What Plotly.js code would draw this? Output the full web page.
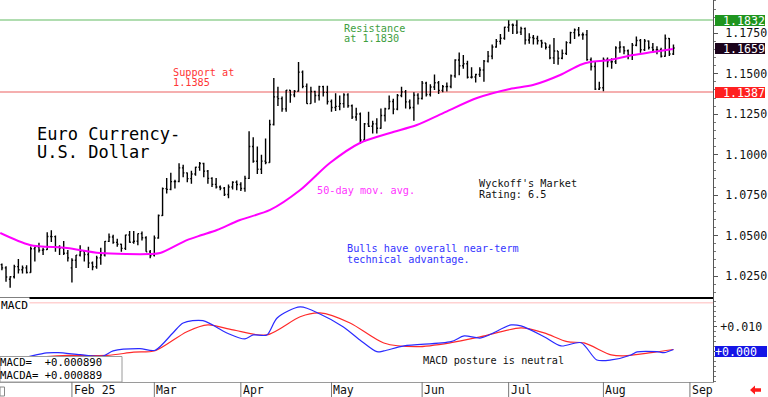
<!DOCTYPE html>
<html><head><meta charset="utf-8">
<script src="https://cdn.plot.ly/plotly-3.0.1.min.js"></script>
<style>html,body{margin:0;padding:0;background:#fff;}#chart{width:768px;height:397px;}</style>
</head><body><div id="chart"></div>
<script>
// ---- Daily OHLC (Jan 9 .. Aug 26), one entry per weekday ----
const opens = [
1.0320,1.0300,1.0230,1.0245,1.0308,1.0289,1.0300,1.0272,1.0418,1.0430,1.0409,1.0413,1.0494,1.0493,1.0430,1.0423,1.0391,
1.0300,1.0347,1.0379,1.0402,1.0383,1.0330,1.0307,1.0362,1.0380,1.0464,1.0491,1.0458,1.0446,1.0421,1.0503,1.0459,1.0465,1.0512,1.0486,1.0399,
1.0380,1.0485,1.0624,1.0790,1.0785,1.0833,1.0834,1.0918,1.0887,1.0852,1.0880,1.0922,1.0945,1.0898,1.0853,1.0816,1.0800,1.0793,1.0754,1.0800,1.0829,
1.0815,1.0791,1.0853,1.1050,1.0959,1.0910,1.0960,1.0951,1.1186,1.1357,1.1346,1.1283,1.1398,1.1369,1.1392,1.1510,1.1422,1.1315,1.1390,1.1365,1.1420,1.1385,
1.1328,1.1291,1.1298,1.1315,1.1369,1.1302,1.1233,1.1251,1.1090,1.1190,1.1175,1.1190,1.1163,1.1242,1.1283,1.1328,1.1281,1.1365,1.1388,1.1326,1.1291,1.1368,
1.1347,1.1442,1.1372,1.1418,1.1444,1.1397,1.1420,1.1421,1.1487,1.1585,1.1549,1.1562,1.1478,1.1480,1.1495,1.1523,1.1578,1.1609,1.1665,1.1700,1.1719,
1.1787,1.1802,1.1800,1.1757,1.1779,1.1708,1.1724,1.1718,1.1704,1.1690,1.1664,1.1598,1.1640,1.1596,1.1626,1.1692,1.1754,1.1771,1.1741,1.1741,1.1587,1.1545,1.1405,
1.1413,1.1588,1.1573,1.1574,1.1660,1.1665,1.1642,1.1615,1.1676,1.1705,1.1648,1.1702,1.1662,1.1648,1.1648,1.1608,1.1718,1.1622];
const highs = [
1.0327,1.0310,1.0249,1.0320,1.0355,1.0315,1.0316,1.0433,1.0430,1.0455,1.0425,1.0520,1.0533,1.0500,1.0440,1.0466,1.0410,
1.0360,1.0380,1.0440,1.0405,1.0430,1.0340,1.0375,1.0425,1.0467,1.0513,1.0505,1.0480,1.0450,1.0505,1.0528,1.0528,1.0513,1.0525,1.0495,1.0410,
1.0500,1.0630,1.0797,1.0855,1.0888,1.0845,1.0947,1.0938,1.0890,1.0900,1.0925,1.0955,1.0950,1.0905,1.0860,1.0855,1.0810,1.0800,1.0815,1.0835,1.0840,
1.0830,1.0870,1.1144,1.1107,1.1050,1.1000,1.1100,1.1215,1.1474,1.1420,1.1360,1.1400,1.1400,1.1400,1.1573,1.1520,1.1440,1.1420,1.1395,1.1425,1.1425,1.1425,
1.1340,1.1380,1.1365,1.1380,1.1380,1.1310,1.1290,1.1260,1.1195,1.1265,1.1210,1.1225,1.1285,1.1290,1.1365,1.1345,1.1375,1.1420,1.1400,1.1340,1.1385,1.1380,
1.1455,1.1450,1.1435,1.1495,1.1455,1.1430,1.1445,1.1495,1.1590,1.1631,1.1615,1.1580,1.1540,1.1500,1.1540,1.1585,1.1640,1.1680,1.1715,1.1745,1.1790,
1.1830,1.1810,1.1830,1.1790,1.1785,1.1750,1.1740,1.1735,1.1710,1.1690,1.1680,1.1720,1.1640,1.1650,1.1700,1.1760,1.1780,1.1789,1.1755,1.1770,1.1600,1.1575,1.1450,
1.1600,1.1600,1.1595,1.1670,1.1700,1.1670,1.1650,1.1690,1.1730,1.1715,1.1715,1.1705,1.1690,1.1670,1.1660,1.1742,1.1720,1.1680];
const lows = [
1.0285,1.0215,1.0178,1.0235,1.0265,1.0265,1.0265,1.0270,1.0340,1.0395,1.0380,1.0410,1.0460,1.0400,1.0380,1.0380,1.0340,
1.0210,1.0300,1.0370,1.0340,1.0300,1.0285,1.0295,1.0320,1.0370,1.0460,1.0450,1.0430,1.0400,1.0410,1.0455,1.0450,1.0440,1.0470,1.0400,1.0359,
1.0370,1.0480,1.0620,1.0760,1.0780,1.0790,1.0830,1.0860,1.0830,1.0820,1.0870,1.0900,1.0860,1.0820,1.0800,1.0790,1.0780,1.0745,1.0730,1.0785,1.0780,
1.0775,1.0770,1.0850,1.0950,1.0880,1.0880,1.0940,1.0950,1.1180,1.1300,1.1265,1.1265,1.1320,1.1355,1.1390,1.1410,1.1315,1.1315,1.1320,1.1335,1.1360,1.1310,
1.1265,1.1270,1.1275,1.1290,1.1290,1.1220,1.1210,1.1065,1.1080,1.1170,1.1130,1.1130,1.1160,1.1205,1.1280,1.1250,1.1275,1.1355,1.1285,1.1280,1.1210,1.1310,
1.1340,1.1360,1.1360,1.1400,1.1375,1.1385,1.1390,1.1410,1.1475,1.1490,1.1530,1.1470,1.1470,1.1445,1.1480,1.1450,1.1570,1.1590,1.1660,1.1680,1.1710,
1.1760,1.1745,1.1745,1.1740,1.1680,1.1685,1.1680,1.1680,1.1660,1.1650,1.1590,1.1560,1.1556,1.1590,1.1615,1.1685,1.1715,1.1730,1.1710,1.1580,1.1520,1.1400,1.1400,
1.1391,1.1540,1.1530,1.1560,1.1630,1.1620,1.1590,1.1585,1.1670,1.1630,1.1640,1.1650,1.1630,1.1620,1.1600,1.1605,1.1610,1.1615];
const closes = [
1.0300,1.0244,1.0245,1.0308,1.0289,1.0300,1.0272,1.0418,1.0430,1.0409,1.0413,1.0494,1.0493,1.0430,1.0423,1.0391,1.0362,
1.0347,1.0379,1.0402,1.0383,1.0330,1.0307,1.0362,1.0380,1.0464,1.0491,1.0458,1.0446,1.0421,1.0503,1.0459,1.0465,1.0512,1.0486,1.0399,1.0375,
1.0485,1.0624,1.0790,1.0785,1.0833,1.0834,1.0918,1.0887,1.0852,1.0880,1.0922,1.0945,1.0898,1.0853,1.0816,1.0800,1.0793,1.0754,1.0800,1.0829,1.0815,
1.0791,1.0853,1.1050,1.0959,1.0910,1.0960,1.0951,1.1186,1.1357,1.1346,1.1283,1.1398,1.1369,1.1392,1.1510,1.1422,1.1315,1.1390,1.1365,1.1420,1.1385,1.1328,
1.1291,1.1298,1.1315,1.1369,1.1302,1.1233,1.1251,1.1090,1.1190,1.1175,1.1190,1.1163,1.1242,1.1283,1.1328,1.1281,1.1365,1.1388,1.1326,1.1291,1.1368,1.1347,
1.1442,1.1372,1.1418,1.1444,1.1397,1.1420,1.1421,1.1487,1.1585,1.1549,1.1562,1.1478,1.1480,1.1495,1.1523,1.1578,1.1609,1.1665,1.1700,1.1719,1.1787,
1.1802,1.1800,1.1757,1.1779,1.1708,1.1724,1.1718,1.1704,1.1690,1.1664,1.1598,1.1640,1.1596,1.1626,1.1692,1.1754,1.1771,1.1741,1.1741,1.1587,1.1545,1.1405,1.1413,
1.1588,1.1573,1.1574,1.1660,1.1665,1.1642,1.1615,1.1676,1.1705,1.1648,1.1702,1.1662,1.1648,1.1648,1.1608,1.1718,1.1622,1.1659];

// ---- 50-day moving average (bar index, value) ----
const maIdx = [-0.4, 6.8, 15.8, 23.8, 35.9, 38.4, 44.9, 48.5, 52.2, 57.8, 65.1, 72.4, 79.6, 86.9, 94.2, 100.7, 107.1, 115.3, 123.3, 128.9, 135.5, 140.3, 142.8, 147.6, 153.2, 158, 162.9];
const maVal = [1.0516, 1.0442, 1.0423, 1.0392, 1.0386, 1.0392, 1.0472, 1.0503, 1.0534, 1.0596, 1.0658, 1.0781, 1.0948, 1.1072, 1.1134, 1.1183, 1.1257, 1.1350, 1.1406, 1.1430, 1.1492, 1.1554, 1.1572, 1.1585, 1.1616, 1.1634, 1.1653];

// ---- MACD (blue) and signal / MACDA (red) ----
const macdIdx = [-0.4, 5, 10.9, 13.6, 19, 24.5, 27, 33.5, 37.2, 41.5, 44, 48.8, 54.6, 59, 61, 64.3, 66.8, 72.4, 77.2, 82.8, 86.9, 91, 92.7, 97.6, 109, 112.2, 116.3, 123.6, 126, 131.6, 135.7, 140.6, 144.4, 147.9, 152.7, 154.2, 159, 160.7, 163];
const macdVal = [-0.0040, -0.0025, -0.0005, -0.0004, -0.0012, -0.0018, 0.0003, 0.0012, 0.0006, 0.0075, 0.0115, 0.0124, 0.0075, 0.0051, 0.0067, 0.0067, 0.0135, 0.0179, 0.0151, 0.0100, 0.0047, 0.0000, 0.0003, 0.0023, 0.0040, 0.0063, 0.0055, 0.0107, 0.0103, 0.0060, 0.0023, 0.0036, -0.0033, -0.0033, -0.0013, -0.0001, 0.0000, -0.0004, 0.00089];
const sigIdx = [-0.4, 15.8, 25.5, 32, 37.2, 44.9, 50, 56.1, 64.3, 72.4, 77.2, 84.5, 92.7, 100.8, 109, 116.3, 126, 131.6, 137.2, 141.3, 147.9, 151, 157.6, 163];
const sigVal = [-0.0035, -0.0015, -0.0015, -0.0002, 0.0004, 0.0080, 0.0107, 0.0087, 0.0067, 0.0140, 0.0155, 0.0115, 0.0035, 0.0020, 0.0036, 0.0060, 0.0095, 0.0075, 0.0040, 0.0035, -0.0013, -0.0017, -0.0004, 0.00089];

// ---- axes / labels ----
const monthIdx = [17, 37, 58, 80, 102, 123, 146, 167];
const monthLabels = ['Feb 25', 'Mar', 'Apr', 'May', 'Jun', 'Jul', 'Aug', 'Sep'];
const priceTicks = [1.025, 1.05, 1.075, 1.1, 1.125, 1.15, 1.175];
const priceTickText = ['1.0250', '1.0500', '1.0750', '1.1000', '1.1250', '1.1500', '1.1750'];
const macdTicks = [0, 0.01];
const macdTickText = ['', '+0.010'];
const resistanceLevel = 1.1832;
const supportLevel = 1.1387;
const lastClose = 1.1659;
const macdUpperLine = 0.0196;
const macdLast = '+0.000890';
const macdaLast = '+0.000889';

const xIdx = closes.map((_, i) => i);
const MONO = 'DejaVu Sans Mono';
const PH = 382, PW = 713; // plot area in px
const px = v => v / PW;
const py = v => (PH - v) / PH;
const XR = [-0.46, 172.6];

const traces = [
  {type: 'ohlc', x: xIdx, open: opens, high: highs, low: lows, close: closes,
   xaxis: 'x', yaxis: 'y', tickwidth: 0.3, hoverinfo: 'skip',
   increasing: {line: {color: '#000', width: 1.4}},
   decreasing: {line: {color: '#000', width: 1.4}}},
  {type: 'scatter', mode: 'lines', x: maIdx, y: maVal, xaxis: 'x', yaxis: 'y',
   line: {color: '#ff00ff', width: 2, shape: 'spline', smoothing: 0.8}, hoverinfo: 'skip'},
  {type: 'scatter', mode: 'lines', x: sigIdx, y: sigVal, xaxis: 'x2', yaxis: 'y2',
   line: {color: '#ff2a2a', width: 1.2, shape: 'spline', smoothing: 0.8}, hoverinfo: 'skip'},
  {type: 'scatter', mode: 'lines', x: macdIdx, y: macdVal, xaxis: 'x2', yaxis: 'y2',
   line: {color: '#2a2aff', width: 1.2, shape: 'spline', smoothing: 0.8}, hoverinfo: 'skip'}
];

function txt(t, x, y, size, color, extra) {
  return Object.assign({text: t, xref: 'paper', yref: 'paper', x: px(x) , y: py(y),
    xanchor: 'left', yanchor: 'middle', showarrow: false, xshift: -2,
    font: {family: MONO, size: size, color: color}}, extra || {});
}

const annotations = [
  txt('Resistance', 344.3, 28.3, 10.2, '#3e9e3e'),
  txt('at 1.1830', 344.3, 38.6, 10.2, '#3e9e3e'),
  txt('Support at', 173.3, 72.3, 10.2, '#ff3535'),
  txt('1.1385', 173.3, 82.6, 10.2, '#ff3535'),
  txt('Euro Currency-', 36.7, 134.3, 17, '#000'),
  txt('U.S. Dollar', 36.7, 151.7, 17, '#000'),
  txt('50-day mov. avg.', 316.7, 190.7, 10.2, '#ff33ff'),
  txt("Wyckoff's Market", 479.3, 184, 10.2, '#111'),
  txt('Rating: 6.5', 479.3, 194.3, 10.2, '#111'),
  txt('Bulls have overall near-term', 346.7, 248.3, 10.2, '#3535ff'),
  txt('technical advantage.', 346.7, 259, 10.2, '#3535ff'),
  txt('MACD', 0, 305, 11.2, '#000', {bgcolor: '#fff', xshift: -1}),
  txt('MACD posture is neutral', 423.3, 360.7, 10.2, '#111'),
  txt('MACD=  ' + macdLast, 0, 362.4, 10.6, '#000', {xshift: -1, borderpad: 0}),
  txt('MACDA= ' + macdaLast, 0, 375.0, 10.6, '#000', {xshift: -1, borderpad: 0}),
  // highlighted right-axis values
  {text: resistanceLevel.toFixed(4), xref: 'paper', yref: 'y', x: 1, y: resistanceLevel, xanchor: 'left', yanchor: 'middle',
   xshift: 2, showarrow: false, bgcolor: '#1f951f', width: 50, height: 11, borderpad: 0, borderwidth: 0, align: 'right',
   font: {family: MONO, size: 11.6, color: '#fff'}},
  {text: lastClose.toFixed(4), xref: 'paper', yref: 'y', x: 1, y: lastClose, xanchor: 'left', yanchor: 'middle',
   xshift: 2, showarrow: false, bgcolor: '#1c041c', width: 50, height: 11, borderpad: 0, borderwidth: 0, align: 'right',
   font: {family: MONO, size: 11.6, color: '#fff'}},
  {text: supportLevel.toFixed(4), xref: 'paper', yref: 'y', x: 1, y: supportLevel, xanchor: 'left', yanchor: 'middle',
   xshift: 2, showarrow: false, bgcolor: '#ff2020', width: 50, height: 11, borderpad: 0, borderwidth: 0, align: 'right',
   font: {family: MONO, size: 11.6, color: '#fff'}},
  {text: '+0.000', xref: 'paper', yref: 'y2', x: 1, y: 0, xanchor: 'left', yanchor: 'middle',
   xshift: 2, showarrow: false, bgcolor: '#1515e6', width: 52, height: 11, borderpad: 0, borderwidth: 0, align: 'left',
   font: {family: MONO, size: 11.6, color: '#fff'}}
];
monthIdx.forEach((m, i) => annotations.push({text: monthLabels[i], xref: 'x2', yref: 'paper', x: m, y: py(389.5),
  xanchor: 'left', yanchor: 'middle', xshift: 0, showarrow: false, font: {family: MONO, size: 11.5, color: '#111'}}));

const shapes = [
  {type: 'line', xref: 'paper', yref: 'y', x0: 0, x1: 1, y0: resistanceLevel, y1: resistanceLevel, line: {color: '#96d296', width: 1.5}, layer: 'below'},
  {type: 'line', xref: 'paper', yref: 'y', x0: 0, x1: 1, y0: supportLevel, y1: supportLevel, line: {color: '#f29494', width: 1.5}, layer: 'below'},
  {type: 'line', xref: 'paper', yref: 'y2', x0: 0, x1: 1, y0: macdUpperLine, y1: macdUpperLine, line: {color: '#ffd2d2', width: 1.5}, layer: 'below'},
  {type: 'rect', xref: 'paper', yref: 'paper', x0: 0, x1: px(122), y0: py(382), y1: py(356.5), fillcolor: '#fff', line: {color: '#9a9a9a', width: 1}},
  {type: 'rect', xref: 'paper', yref: 'paper', x0: 0, x1: px(4.5), y0: py(396), y1: py(387), fillcolor: 'rgba(0,0,0,0)', line: {color: '#888', width: 1}},
  {type: 'path', xref: 'paper', yref: 'paper',
   path: `M ${px(750)} ${py(390)} L ${px(755)} ${py(385.5)} L ${px(755)} ${py(388.3)} L ${px(761)} ${py(388.3)} L ${px(761)} ${py(391.7)} L ${px(755)} ${py(391.7)} L ${px(755)} ${py(394.5)} Z`,
   fillcolor: '#ff1a1a', line: {width: 0}}
];
monthIdx.forEach(m => shapes.push({type: 'line', xref: 'x2', yref: 'paper', x0: m, x1: m, y0: py(397), y1: py(382), line: {color: '#777', width: 1}}));

const layout = {
  width: 768, height: 397,
  margin: {l: 0, r: 55, t: 0, b: 15, pad: 0},
  paper_bgcolor: '#fff', plot_bgcolor: '#fff',
  showlegend: false,
  font: {family: MONO, color: '#111'},
  xaxis: {domain: [0, 1], range: XR, anchor: 'y', showgrid: false, zeroline: false, showticklabels: false, ticks: '',
          showline: true, linecolor: '#000', linewidth: 2, rangeslider: {visible: false}, fixedrange: true},
  yaxis: {domain: [85 / PH, 1], range: [1.01202, 1.19556], side: 'right', anchor: 'x', showgrid: false, zeroline: false,
          showline: true, linecolor: '#555', linewidth: 1, ticks: 'outside', ticklen: 4, tickcolor: '#555',
          tickmode: 'array', tickvals: priceTicks, ticktext: priceTickText, ticklabelstandoff: 5,
          tickfont: {family: MONO, size: 11.6, color: '#111'},
          minor: {ticks: 'outside', ticklen: 2, tickcolor: '#777', tickmode: 'linear', tick0: 1.0, dtick: 0.005},
          fixedrange: true},
  xaxis2: {domain: [0, 1], range: XR, anchor: 'y2', showgrid: false, zeroline: false, showticklabels: false, ticks: '',
           showline: true, linecolor: '#9a9a9a', linewidth: 1, fixedrange: true},
  yaxis2: {domain: [0, 85 / PH], range: [-0.01212, 0.02188], side: 'right', anchor: 'x2', showgrid: false, zeroline: false,
           showline: true, linecolor: '#555', linewidth: 1, ticks: 'outside', ticklen: 3, tickcolor: '#555',
           tickmode: 'array', tickvals: macdTicks, ticktext: macdTickText, ticklabelstandoff: 1,
           tickfont: {family: MONO, size: 11.6, color: '#111'},
           minor: {ticks: 'outside', ticklen: 2, tickcolor: '#777', tickmode: 'linear', tick0: 0, dtick: 0.002},
           fixedrange: true},
  annotations: annotations,
  shapes: shapes
};

Plotly.newPlot('chart', traces, layout, {staticPlot: true, displayModeBar: false});
</script>
</body></html>
